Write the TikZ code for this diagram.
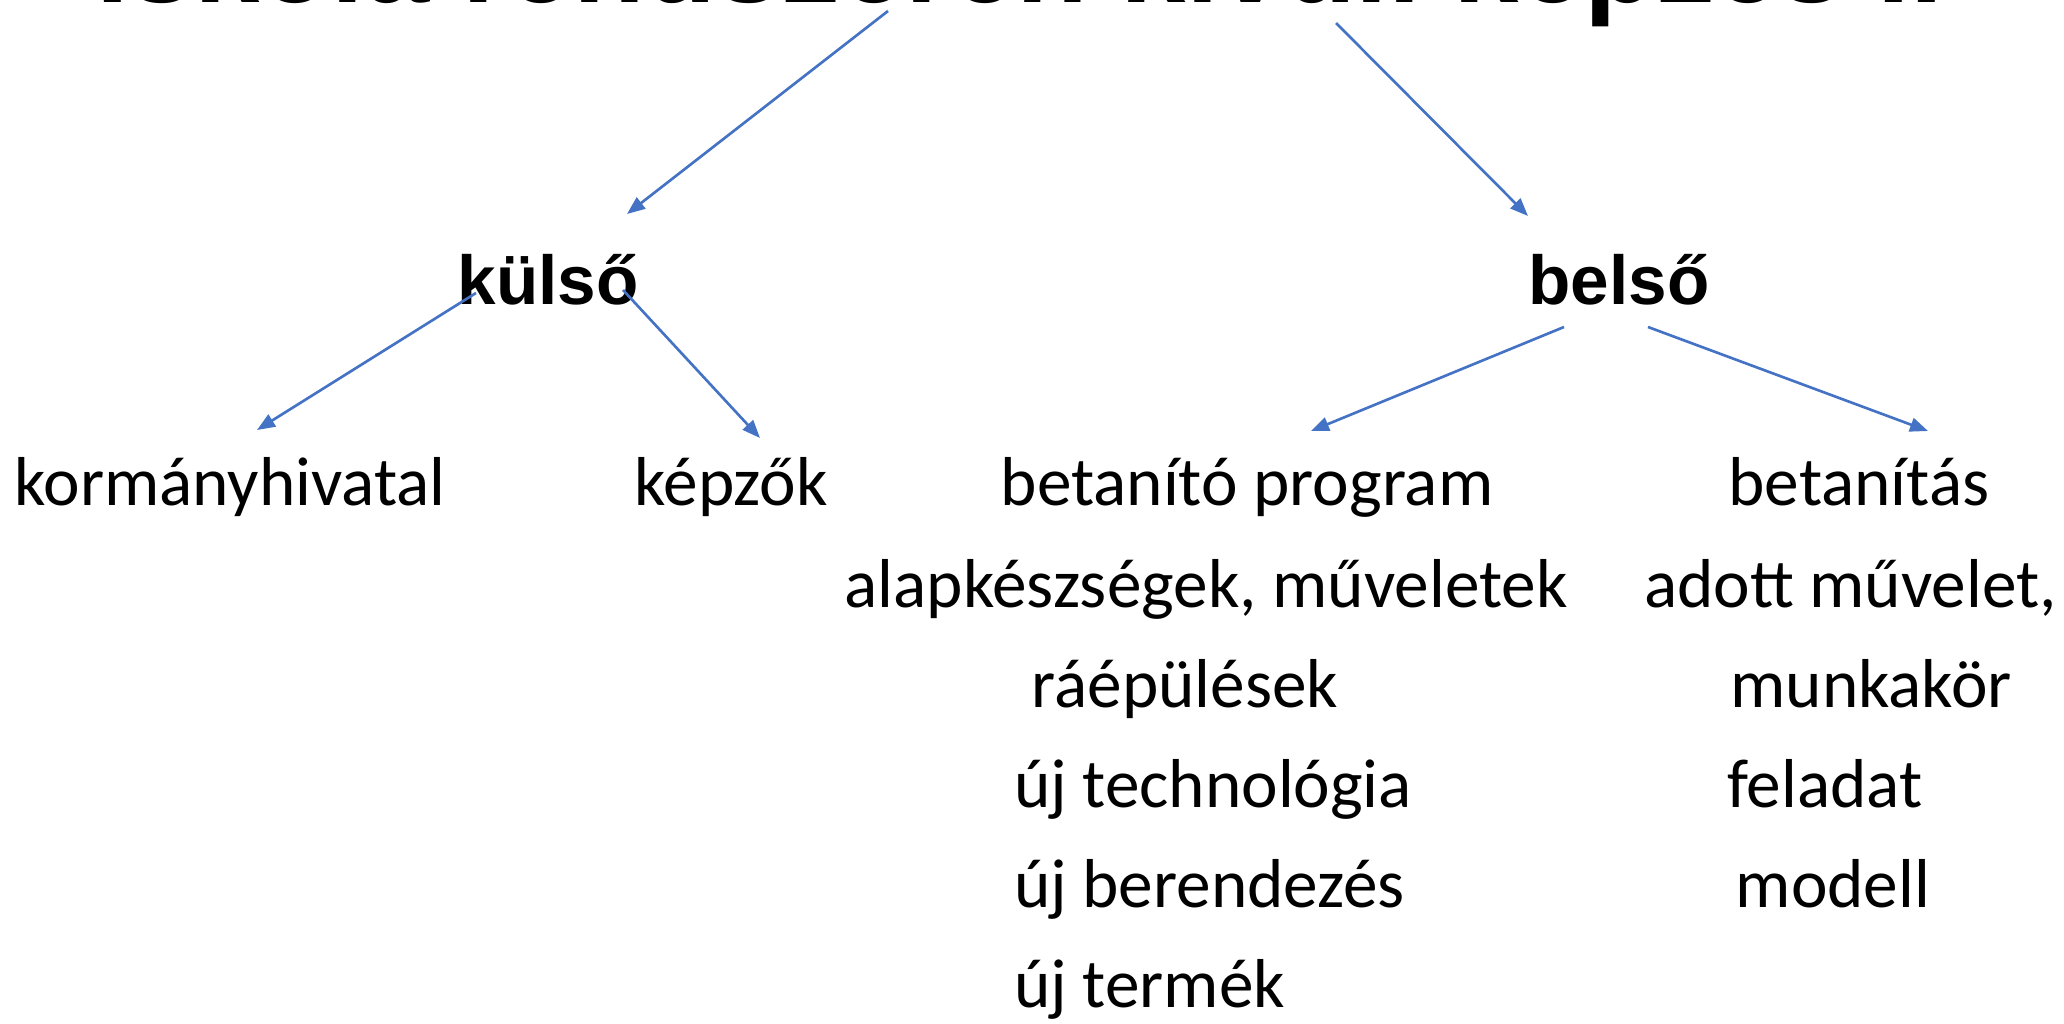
\documentclass[tikz,border=0pt]{standalone}
\usepackage{fontspec}
\setmainfont{Carlito}
\newfontfamily\arialbold{Liberation Sans}[BoldFont={* Bold}]
\usetikzlibrary{arrows.meta}
\definecolor{arrblue}{HTML}{4472C4}
\tikzset{
  bodytxt/.style={inner sep=0pt, outer sep=0pt, font=\fontsize{19.7}{23}\selectfont},
  headtxt/.style={inner sep=0pt, outer sep=0pt, font=\arialbold\bfseries\fontsize{19.7}{23}\selectfont},
  titletxt/.style={inner sep=0pt, outer sep=0pt, font=\arialbold\bfseries\fontsize{33.4}{40}\selectfont},
  conn/.style={draw=arrblue, line width=0.75pt, -{Triangle[length=1.8mm,width=1.4mm]}}
}
\begin{document}
\begin{tikzpicture}[x=0.1mm,y=-0.1mm]
\useasboundingbox (0,0) rectangle (2064,1024);
\clip (0,0) rectangle (2064,1024);
\fill[white] (0,0) rectangle (2064,1024);
% title (cut off by the top edge, as in the reference)
\node[titletxt, anchor=base] (title) at (1020,3) {Iskola rendszeren kívüli képzés II};
% level 1
\node[headtxt, anchor=base] (kulso) at (548,305) {külső};
\node[headtxt, anchor=base] (belso) at (1619,305) {belső};
% level 2
\node[bodytxt, anchor=base] (korm) at (230,506) {kormányhivatal};
\node[bodytxt, anchor=base] (kepzok) at (731,506) {képzők};
\node[bodytxt, anchor=base] (betprog) at (1247,506) {betanító program};
\node[bodytxt, anchor=base] (betan) at (1859,506) {betanítás};
% lists
\node[bodytxt, anchor=base] (alap) at (1206,607) {alapkészségek, műveletek};
\node[bodytxt, anchor=base west] (adott) at (1644,607) {adott művelet,};
\node[bodytxt, anchor=base] (raep) at (1185,707) {ráépülések};
\node[bodytxt, anchor=base] (munka) at (1871,707) {munkakör};
\node[bodytxt, anchor=base west] (ujtech) at (1014,807) {új technológia};
\node[bodytxt, anchor=base] (felad) at (1825,807) {feladat};
\node[bodytxt, anchor=base west] (ujber) at (1014,907) {új berendezés};
\node[bodytxt, anchor=base] (modell) at (1833,907) {modell};
\node[bodytxt, anchor=base west] (ujterm) at (1014,1007) {új termék};
% connector ends
\coordinate (tA) at (888,11);
\coordinate (tB) at (1336,23);
\coordinate (kA) at (476,293);
\coordinate (kB) at (623,290);
\coordinate (bA) at (1564,327);
\coordinate (bB) at (1648,327);
\coordinate (kulsoIn) at (627,214);
\coordinate (belsoIn) at (1528,216);
\coordinate (kormIn) at (257,430);
\coordinate (kepzIn) at (760,438);
\coordinate (progIn) at (1311,431);
\coordinate (betanIn) at (1928,431);
\draw[conn] (tA) -- (kulsoIn);
\draw[conn] (tB) -- (belsoIn);
\draw[conn] (kA) -- (kormIn);
\draw[conn] (kB) -- (kepzIn);
\draw[conn] (bA) -- (progIn);
\draw[conn] (bB) -- (betanIn);
\end{tikzpicture}
\end{document}
